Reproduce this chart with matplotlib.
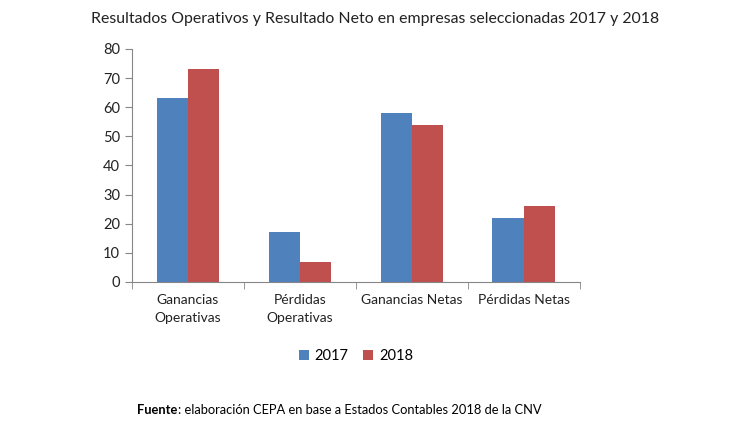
import matplotlib.pyplot as plt
import numpy as np

plt.rcParams['font.family'] = ['Lato', 'DejaVu Sans']

categories = ['Ganancias\nOperativas', 'Pérdidas\nOperativas', 'Ganancias Netas', 'Pérdidas Netas']
series_names = ['2017', '2018']
values_2017 = [63, 17, 58, 22]
values_2018 = [73, 7, 54, 26]

fig = plt.figure(figsize=(7.5, 4.22), dpi=100)
ax = fig.add_axes([0.176, 0.332, 0.597, 0.552])

x = np.arange(len(categories))
w = 0.28
ax.bar(x - w / 2, values_2017, w, color='#4F81BD', label=series_names[0])
ax.bar(x + w / 2, values_2018, w, color='#C0504D', label=series_names[1])

ax.set_xlim(-0.5, len(categories) - 0.5)
ax.set_ylim(0, 80)
ax.set_yticks(range(0, 81, 10))
ax.set_xticks(x)
ax.set_xticklabels(categories, fontsize=10, color='#222222', linespacing=1.6)
ax.set_xticks(np.arange(-0.5, len(categories)), minor=True)
ax.tick_params(axis='x', which='major', length=0, pad=9)
ax.tick_params(axis='x', which='minor', length=5, color='#868686')
ax.tick_params(axis='y', length=5, color='#868686', labelsize=10.5, labelcolor='#222222')

for s in ['top', 'right']:
    ax.spines[s].set_visible(False)
for s in ['left', 'bottom']:
    ax.spines[s].set_color('#868686')

fig.text(0.5, 0.955, 'Resultados Operativos y Resultado Neto en empresas seleccionadas 2017 y 2018',
         ha='center', va='center', fontsize=11.4, color='#222222')

ax.legend(loc='center', bbox_to_anchor=(0.5, -0.32), ncol=2, frameon=False,
          fontsize=10.5, handlelength=0.7, handleheight=0.7, columnspacing=1.0,
          handletextpad=0.4)

fig.text(0.183, 0.028, 'Fuente', fontweight='bold', fontsize=9.3, ha='left', va='center')
fig.text(0.238, 0.028, ': elaboración CEPA en base a Estados Contables 2018 de la CNV',
         fontsize=9.3, ha='left', va='center')

fig.savefig('out.png', dpi=100)
